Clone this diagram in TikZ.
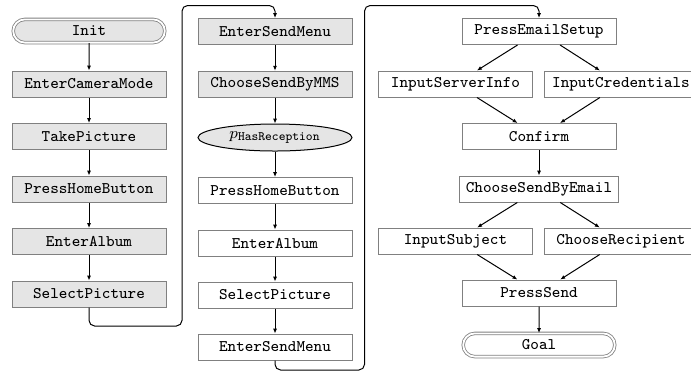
\documentclass[tikz,border=0pt]{standalone}
\usetikzlibrary{shapes.geometric,shapes.misc,arrows.meta}
\begin{document}
\begin{tikzpicture}[x=0.5pt,y=-0.5pt,
  every node/.style={font=\fontsize{8.1}{9}\selectfont\ttfamily},
  stepbox/.style={draw=black!50,line width=0.5pt,rectangle,minimum width=77pt,minimum height=13pt,inner xsep=3.3pt,inner ysep=0pt},
  shaded/.style={fill=black!10},
  termbox/.style={draw=black!50,line width=0.4pt,double=white,double distance=0.9pt,rounded rectangle,minimum width=75.8pt,minimum height=11.6pt,inner sep=0pt},
  condbox/.style={draw=black,line width=0.5pt,ellipse,fill=black!10,minimum width=77pt,minimum height=13.5pt,inner sep=0pt},
  conn/.style={line width=0.5pt,-{Latex[length=2.4pt,width=2pt]}}]
\useasboundingbox (0,0) rectangle (691,372);
% column 1
\node[termbox,fill=black!10] (init) at (89,31) {Init};
\node[stepbox,shaded] (ecm) at (89,84) {EnterCameraMode};
\node[stepbox,shaded] (tp) at (89,136.5) {TakePicture};
\node[stepbox,shaded] (phb1) at (89,189) {PressHomeButton};
\node[stepbox,shaded] (ea1) at (89,241.5) {EnterAlbum};
\node[stepbox,shaded] (sp1) at (89,294) {SelectPicture};
% column 2
\node[stepbox,shaded] (esm1) at (275,31.5) {EnterSendMenu};
\node[stepbox,shaded] (csm) at (275,84.2) {ChooseSendByMMS};
\node[condbox] (rec) at (275,137.5) {$\fontsize{11}{12}\selectfont p_{\hbox{\fontsize{6.4}{7}\selectfont\ttfamily HasReception}}$};
\node[stepbox] (phb2) at (275,190.5) {PressHomeButton};
\node[stepbox] (ea2) at (275,243) {EnterAlbum};
\node[stepbox] (sp2) at (275,295) {SelectPicture};
\node[stepbox] (esm2) at (275,347) {EnterSendMenu};
% column 3
\node[stepbox] (pes) at (539,31.5) {PressEmailSetup};
\node[stepbox] (isi) at (455.5,84) {InputServerInfo};
\node[stepbox] (icr) at (621,84) {InputCredentials};
\node[stepbox] (cnf) at (539,136.5) {Confirm};
\node[stepbox] (cse) at (539,189) {ChooseSendByEmail};
\node[stepbox] (isu) at (455.5,241) {InputSubject};
\node[stepbox] (cre) at (621,241) {ChooseRecipient};
\node[stepbox] (ps) at (539,293) {PressSend};
\node[termbox] (goal) at (539,345) {Goal};
% connectors column 1
\draw[conn] (init) -- (ecm);
\draw[conn] (ecm) -- (tp);
\draw[conn] (tp) -- (phb1);
\draw[conn] (phb1) -- (ea1);
\draw[conn] (ea1) -- (sp1);
\coordinate (b1) at (89,326);
\coordinate (t1) at (182,5.5);
\draw[conn,rounded corners=2.8pt] (sp1.south) -- (b1) -| (t1) -| (esm1.north);
% column 2
\draw[conn] (esm1) -- (csm);
\draw[conn] (csm) -- (rec);
\draw[conn] (rec) -- (phb2);
\draw[conn] (phb2) -- (ea2);
\draw[conn] (ea2) -- (sp2);
\draw[conn] (sp2) -- (esm2);
\coordinate (b2) at (275,370);
\coordinate (t2) at (364.5,5.5);
\draw[conn,rounded corners=2.8pt] (esm2.south) -- (b2) -| (t2) -| (pes.north);
% column 3
\draw[conn] (pes) -- (isi);
\draw[conn] (pes) -- (icr);
\draw[conn] (isi) -- (cnf);
\draw[conn] (icr) -- (cnf);
\draw[conn] (cnf) -- (cse);
\draw[conn] (cse) -- (isu);
\draw[conn] (cse) -- (cre);
\draw[conn] (isu) -- (ps);
\draw[conn] (cre) -- (ps);
\draw[conn] (ps) -- (goal);
\end{tikzpicture}
\end{document}
